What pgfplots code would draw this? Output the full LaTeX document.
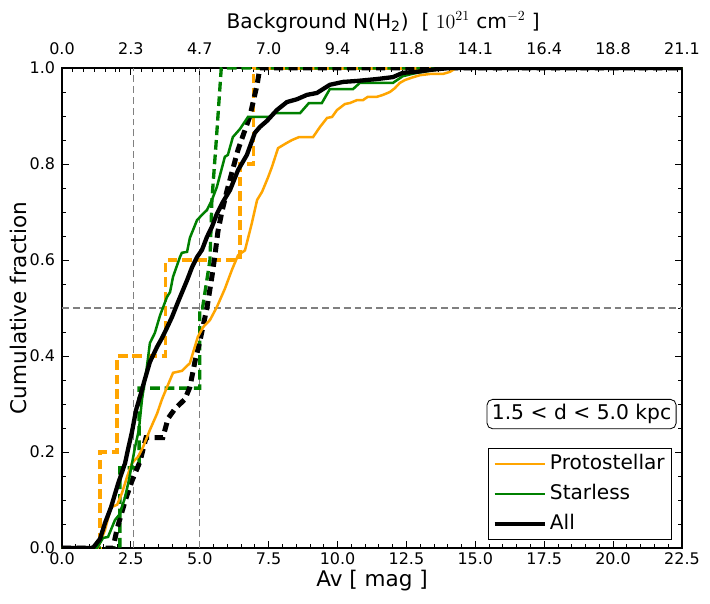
\documentclass[border=0pt]{standalone}
\usepackage{fontspec}
\setmainfont{DejaVu Sans}
\usepackage{pgfplots}
\pgfplotsset{compat=1.18}
\definecolor{mplorange}{HTML}{FFA500}
\definecolor{mplgreen}{HTML}{008000}
\begin{document}
\begin{tikzpicture}
\useasboundingbox (-44.64pt,-39.6pt) rectangle (466.56pt,394.56pt);
% top (twin) axis
\begin{axis}[
  at={(0,0)}, anchor=south west,
  scale only axis, width=446.4pt, height=345.6pt,
  xmin=0, xmax=22.5, ymin=0, ymax=1,
  hide y axis,
  axis line style={line width=0.8pt},
  xtick pos=top, xticklabel pos=top,
  xtick={0,2.5,5,7.5,10,12.5,15,17.5,20,22.5},
  xticklabels={0.0,2.3,4.7,7.0,9.4,11.8,14.1,16.4,18.8,21.1},
  minor xtick={0.39,0.78,1.17,1.56,1.95,2.1,2.89,3.28,3.67,4.06,4.45,4.84,5.39,5.78,6.17,6.56,6.95,7.34,7.89,8.28,8.67,9.06,9.45,9.84,10.39,10.78,11.17,11.56,11.95,12.34,12.89,13.28,13.67,14.06,14.45,14.84,15.39,15.78,16.17,16.56,16.95,17.34,17.89,18.28,18.67,19.06,19.45,19.84,20.39,20.78,21.17,21.56,21.95,22.34},
  major tick length=5pt, minor tick length=2.9pt,
  tick style={black, line width=0.6pt},
  tick label style={font=\fontsize{11.5}{13}\selectfont},
  xticklabel style={yshift=6pt},
  xlabel={Background N(H\textsubscript{2})\ \ [ $10^{21}$ cm$^{-2}$ ]},
  xlabel style={font=\fontsize{14.5}{17}\selectfont, at={(axis description cs:0.518,1.0958)}, anchor=center},
]
\end{axis}
% main axis
\begin{axis}[
  at={(0,0)}, anchor=south west,
  scale only axis, width=446.4pt, height=345.6pt,
  xmin=0, xmax=22.5, ymin=0, ymax=1,
  axis line style={line width=0.8pt},
  xtick pos=bottom, ytick pos=both, yticklabel pos=left,
  xtick={0,2.5,5,7.5,10,12.5,15,17.5,20,22.5},
  ytick={0,0.2,0.4,0.6,0.8,1.0},
  minor x tick num=4, minor y tick num=3,
  major tick length=5pt, minor tick length=2.9pt,
  tick style={black, line width=0.6pt},
  /pgf/number format/assume math mode=true,
  /pgf/number format/fixed,
  /pgf/number format/fixed zerofill,
  /pgf/number format/precision=1,
  tick label style={font=\fontsize{11.5}{13}\selectfont},
  xticklabel style={yshift=0pt},
  yticklabel style={xshift=-1.5pt},
  xlabel={Av [ mag ]}, ylabel={Cumulative fraction},
  label style={font=\fontsize{15.5}{18}\selectfont},
  xlabel style={at={(axis description cs:0.5,-0.06875)}, anchor=center},
  ylabel style={at={(axis description cs:-0.0694,0.5)}, anchor=center},
  legend style={at={(rel axis cs:0.984,0.0167)}, anchor=south east,
    draw=black, line width=0.6pt, fill=white,
    inner sep=3pt, row sep=5pt, column sep=0pt,
    nodes={inner sep=2pt, text height=10pt, text depth=2.5pt, font=\fontsize{14.5}{17}\selectfont}},
  legend cell align=left,
  legend image code/.code={\path (0pt,0pt) -- (36.3pt,0pt); \draw[#1] (4.3pt,0pt) -- (26.6pt,0pt);},
]
% reference lines
\addplot[forget plot, gray, line width=1pt, dash pattern=on 5pt off 2.8pt] coordinates {(2.6,0) (2.6,1)};
\addplot[forget plot, gray, line width=1pt, dash pattern=on 5pt off 2.8pt] coordinates {(5.0,0) (5.0,1)};
\addplot[forget plot, gray, line width=1pt, dash pattern=on 5pt off 2.8pt] coordinates {(0,0.5) (22.5,0.5)};
% dashed step CDFs
\addplot[forget plot, mplorange, line width=2.4pt, dash pattern=on 7pt off 3.5pt] coordinates {
(0,0) (1.38,0) (1.38,0.2) (2.0,0.2) (2.0,0.4) (3.76,0.4) (3.76,0.6) (6.46,0.6) (6.46,0.8) (6.95,0.8) (6.95,1.0) (22.5,1.0)};
\addplot[forget plot, mplgreen, line width=2.4pt, dash pattern=on 7pt off 3.5pt] coordinates {
(0,0) (2.1,0) (2.1,0.167) (2.8,0.167) (2.8,0.333) (5.0,0.333) (5.0,0.5) (5.1,0.5) (5.37,0.6) (5.44,0.725) (5.6,0.85) (5.78,1.0) (22.5,1.0)};
\addplot[forget plot, black, line width=3.6pt, dash pattern=on 6.5pt off 4pt] coordinates {
(0,0) (1.85,0) (2.0,0.04) (2.3,0.10) (2.54,0.14) (2.83,0.18) (3.05,0.23) (3.66,0.23) (3.85,0.27) (4.1,0.29) (4.46,0.31) (4.64,0.335) (4.83,0.39) (5.0,0.43) (5.26,0.50) (5.44,0.565) (5.55,0.61) (5.66,0.66) (5.8,0.70) (5.99,0.745) (6.39,0.83) (6.82,0.90) (7.08,0.965) (7.18,1.0) (22.5,1.0)};
% solid CDFs
\addplot[mplorange, line width=1.8pt] coordinates {
(0,0) (1.30,0) (1.56,0.0375) (1.78,0.085) (2.0,0.09) (2.18,0.115) (2.36,0.148) (2.54,0.177) (2.76,0.19) (2.94,0.21) (3.19,0.246) (3.45,0.28) (3.63,0.31) (3.81,0.335) (4.03,0.365) (4.35,0.369) (4.64,0.385) (4.93,0.44) (5.12,0.46) (5.37,0.475) (5.62,0.502) (5.91,0.54) (6.17,0.58) (6.39,0.61) (6.64,0.62) (6.89,0.677) (7.08,0.725) (7.26,0.742) (7.47,0.771) (7.62,0.794) (7.84,0.833) (8.16,0.844) (8.35,0.85) (8.60,0.856) (9.11,0.856) (9.36,0.877) (9.62,0.896) (9.80,0.898) (9.98,0.9125) (10.27,0.925) (10.45,0.927) (10.70,0.933) (10.92,0.933) (11.10,0.94) (11.43,0.94) (11.65,0.944) (11.90,0.95) (12.08,0.958) (12.26,0.969) (12.45,0.975) (12.70,0.98) (12.99,0.985) (13.35,0.9875) (13.82,0.9875) (14.08,0.992) (14.30,1.0) (22.5,1.0)};
\addlegendentry{Protostellar}
\addplot[mplgreen, line width=1.8pt] coordinates {
(0,0) (1.27,0) (1.49,0.021) (1.67,0.023) (1.92,0.058) (2.10,0.071) (2.29,0.106) (2.43,0.142) (2.65,0.21) (2.79,0.246) (2.90,0.308) (3.08,0.377) (3.19,0.427) (3.37,0.448) (3.56,0.485) (3.66,0.5) (3.81,0.523) (3.92,0.533) (4.03,0.565) (4.28,0.606) (4.35,0.615) (4.54,0.617) (4.64,0.646) (4.90,0.683) (5.08,0.694) (5.26,0.704) (5.44,0.725) (5.62,0.752) (5.91,0.815) (6.02,0.819) (6.20,0.856) (6.46,0.873) (6.75,0.898) (7.55,0.898) (7.66,0.906) (8.64,0.906) (8.96,0.927) (9.43,0.927) (9.72,0.956) (10.56,0.956) (10.81,0.969) (12.01,0.969) (12.37,0.983) (12.88,0.99) (13.53,0.996) (13.9,1.0) (22.5,1.0)};
\addlegendentry{Starless}
\addplot[black, line width=3.1pt] coordinates {
(0,0) (1.12,0) (1.38,0.019) (1.56,0.052) (1.78,0.085) (2.03,0.133) (2.29,0.177) (2.39,0.204) (2.54,0.242) (2.69,0.288) (2.83,0.315) (2.98,0.346) (3.19,0.3875) (3.45,0.419) (3.63,0.4375) (3.77,0.454) (3.99,0.481) (4.21,0.5125) (4.54,0.558) (4.72,0.585) (4.90,0.606) (5.08,0.621) (5.26,0.648) (5.44,0.669) (5.62,0.696) (5.84,0.721) (6.10,0.746) (6.39,0.7875) (6.71,0.819) (7.00,0.865) (7.18,0.877) (7.44,0.89) (7.80,0.9125) (8.16,0.929) (8.53,0.935) (8.89,0.944) (9.25,0.948) (9.72,0.965) (10.20,0.971) (10.70,0.973) (11.43,0.977) (12.01,0.981) (12.37,0.99) (12.88,0.992) (13.35,0.996) (14.08,1.0) (22.5,1.0)};
\addlegendentry{All}
\node[draw=black, line width=0.6pt, fill=white, rounded corners=4pt, font=\fontsize{14.6}{17}\selectfont, inner xsep=3.5pt, inner ysep=3.5pt] at (rel axis cs:0.838,0.279) {1.5 < d < 5.0 kpc};
\end{axis}
\end{tikzpicture}
\end{document}
